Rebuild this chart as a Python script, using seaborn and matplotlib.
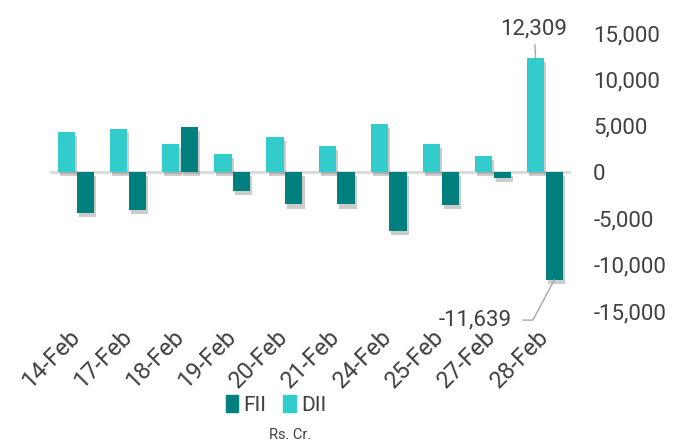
import matplotlib
matplotlib.use('Agg')
import matplotlib.pyplot as plt
import matplotlib.patheffects as pe
from matplotlib.patches import Patch
from matplotlib.ticker import FuncFormatter
import pandas as pd
import seaborn as sns

sns.set_theme(style='white')
plt.rcParams['font.family'] = ['Roboto', 'DejaVu Sans']

# Daily net flows (Rs. Cr.)
dates = ['14-Feb', '17-Feb', '18-Feb', '19-Feb', '20-Feb',
         '21-Feb', '24-Feb', '25-Feb', '27-Feb', '28-Feb']
fii = [-4460, -4100, 4830, -2050, -3490, -3500, -6320, -3580, -600, -11639]
dii = [4290, 4640, 3020, 1910, 3810, 2800, 5170, 3000, 1735, 12309]

FII_COLOR = '#007F7F'
DII_COLOR = '#33CCCC'
TEXT = '#404040'

df = pd.DataFrame({
    'date': dates * 2,
    'investor': ['DII'] * len(dates) + ['FII'] * len(dates),
    'value': dii + fii,
})

W, H = 693, 442
fig = plt.figure(figsize=(W / 100, H / 100), dpi=100)
ax = fig.add_axes([50 / W, 1 - 311 / H, 521 / W, 278 / H])

ax.axhline(0, color='#D9D9D9', lw=2, zorder=0.5)
sns.barplot(data=df, x='date', y='value', hue='investor',
            hue_order=['DII', 'FII'],
            palette={'DII': DII_COLOR, 'FII': FII_COLOR},
            saturation=1, width=0.72, gap=0.08, errorbar=None, legend=False,
            linewidth=0, ax=ax, zorder=2)

# soft drop shadow like the original
for bar in ax.patches:
    bar.set_path_effects([pe.SimplePatchShadow(offset=(1.5, -3),
                                               shadow_rgbFace='black', alpha=0.2),
                          pe.Normal()])

ax.set_xlim(-0.5, len(dates) - 0.5)
ax.set_ylim(-15000, 15000)
ax.set_yticks(range(-15000, 15001, 5000))
ax.yaxis.set_major_formatter(FuncFormatter(lambda v, _: f'{v:,.0f}'))
ax.yaxis.tick_right()
ax.tick_params(axis='y', length=0, pad=16, labelsize=16, labelcolor=TEXT)

ax.set_xticks(range(len(dates)))
ax.set_xticklabels(dates, rotation=45, ha='right', va='center',
                   rotation_mode='anchor', fontsize=17, color=TEXT)
ax.tick_params(axis='x', length=0, pad=16)
ax.set_xlabel('')
ax.set_ylabel('')
for s in ax.spines.values():
    s.set_visible(False)

# callouts for the last day
dii_bar = ax.containers[0][-1]
fii_bar = ax.containers[1][-1]
ax.annotate(f'{dii[-1]:,}', xy=(dii_bar.get_x() + dii_bar.get_width() / 2, dii[-1]),
            xytext=(-1, 13), textcoords='offset points', ha='center', va='bottom',
            fontsize=16, color=TEXT,
            arrowprops=dict(arrowstyle='-', color='#A6A6A6', lw=1,
                            shrinkA=1, shrinkB=0))
ax.annotate(f'{fii[-1]:,}', xy=(fii_bar.get_x() + fii_bar.get_width() / 2, fii[-1]),
            xytext=(-31, -29), textcoords='offset points', ha='right', va='center',
            fontsize=16, color=TEXT,
            arrowprops=dict(arrowstyle='-', color='#A6A6A6', lw=1,
                            shrinkA=6, shrinkB=0,
                            connectionstyle='angle,angleA=0,angleB=62,rad=0'))

handles = [Patch(color=FII_COLOR, label='FII'), Patch(color=DII_COLOR, label='DII')]
leg = fig.legend(handles=handles, loc='center', bbox_to_anchor=(276 / W, 1 - 405 / H),
                 ncol=2, frameon=False, fontsize=15, handlelength=0.6,
                 handleheight=0.9, handletextpad=0.25, columnspacing=0.8)
for t in leg.get_texts():
    t.set_color(TEXT)

fig.text(290 / W, 1 - 435 / H, 'Rs. Cr.', ha='center', va='center',
         fontsize=10.5, color=TEXT)

fig.savefig('out.png', dpi=100)
